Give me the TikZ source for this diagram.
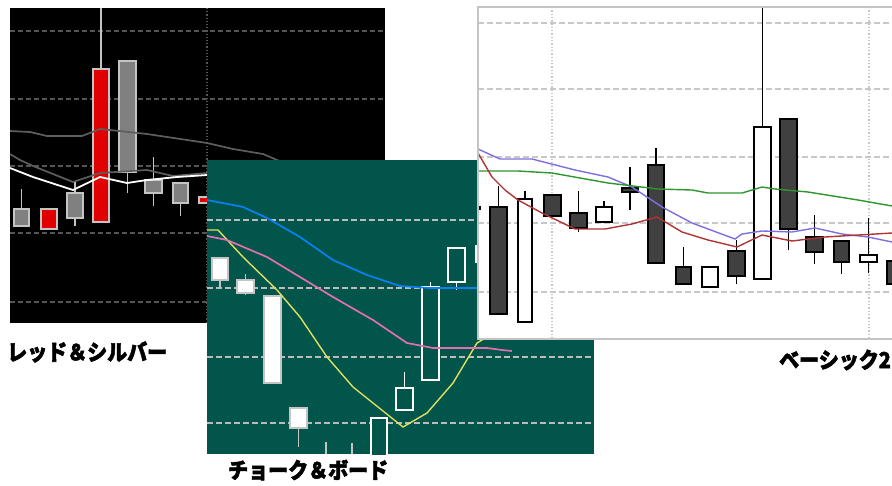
\documentclass[tikz,border=0pt]{standalone}
\usepackage{fontspec}
\newfontfamily\jp{Noto Sans CJK JP}[BoldFeatures={FakeBold=2.5}]
\definecolor{tealbg}{HTML}{02554A}
\definecolor{cred}{HTML}{E00000}
\definecolor{cgray}{HTML}{808080}
\definecolor{cgrayb}{HTML}{C4C4C4}
\definecolor{blkgrid}{HTML}{555555}
\definecolor{blkma}{HTML}{5E5E5E}
\definecolor{mablue}{HTML}{0A80F5}
\definecolor{mayellow}{HTML}{E0E060}
\definecolor{mapink}{HTML}{E070B0}
\definecolor{mapurple}{HTML}{7C70E0}
\definecolor{magreen}{HTML}{2E962E}
\definecolor{mared}{HTML}{B03434}
\definecolor{cdark}{HTML}{404040}
\definecolor{wgrid}{HTML}{C8C8C8}
\definecolor{tgrid}{HTML}{BCBCBC}
\newcommand\cndl[7]{%
  \draw[#7] ({(#1+#2)/2},#5) -- ({(#1+#2)/2},#6);
  \draw[#7] (#1,#3) rectangle (#2,#4);}
\tikzset{
  gc/.style={draw=cgrayb,fill=cgray,line width=1.4pt},
  rc/.style={draw=cgrayb,fill=cred,line width=1.4pt},
  tcf/.style={draw=cgrayb,fill=white,line width=1.4pt},
  tch/.style={draw=white,fill=tealbg,line width=1.6pt},
  wd/.style={draw=black,fill=cdark,line width=1.8pt},
  ww/.style={draw=black,fill=white,line width=1.8pt},
  bgrid/.style={draw=blkgrid,line width=1.4pt,dash pattern=on 5pt off 3pt},
  tgr/.style={draw=tgrid,line width=1.8pt,dash pattern=on 6pt off 3pt},
  wgr/.style={draw=wgrid,line width=1.5pt,dash pattern=on 6pt off 3pt},
  ma/.style={line width=1.7pt},
  lab/.style={font=\jp\bfseries\fontsize{20}{20}\selectfont,anchor=west,inner sep=0pt,text=black}
}
\begin{document}
\begin{tikzpicture}[x=1pt,y=-1pt]
\useasboundingbox (0,0) rectangle (892,485);
\clip (0,0) rectangle (892,485);
\fill[white] (0,0) rectangle (892,485);
% ---------------- black panel
\fill[black] (10,8) rectangle (385,323);
\foreach \yy in {31,99,166,233,302} \draw[bgrid] (10,\yy) -- (385,\yy);
\draw[blkgrid,line width=1.2pt,dash pattern=on 1.2pt off 2pt] (207,8) -- (207,323);
\cndl{14}{29}{209}{226}{189}{226}{gc}
\cndl{41}{57}{209}{229}{209}{229}{rc}
\cndl{67}{83}{193}{218}{182}{226}{gc}
\cndl{93}{109}{69}{222}{8}{222}{rc}
\cndl{119}{136}{61}{172}{61}{193}{gc}
\cndl{145}{162}{180}{193}{157}{206}{gc}
\cndl{173}{188}{183}{203}{182}{216}{gc}
\cndl{199}{213}{197}{203}{197}{203}{rc}
\draw[blkma,ma] (10,131) -- (30,132) -- (47,136) -- (82,136) -- (100,129) -- (110,130) -- (147,134) -- (207,143) -- (233,149) -- (263,154) -- (277,160) -- (300,168);
\draw[blkma,ma] (10,154) -- (20,160) -- (33,166) -- (73,182) -- (100,173) -- (147,170) -- (173,176) -- (207,173) -- (240,172);
\draw[white,line width=1.8pt] (10,168) -- (33,177) -- (73,190) -- (100,177) -- (127,183) -- (147,180) -- (177,177) -- (207,175) -- (240,174);
% ---------------- teal panel
\fill[tealbg] (207,160) rectangle (594,454);
\foreach \yy in {220,288,357,423} \draw[tgr] (207,\yy) -- (594,\yy);
\begin{scope}
\clip (207,160) rectangle (594,454);
\cndl{212}{228}{258}{280}{258}{287}{tcf}
\cndl{237}{254}{280}{293}{274}{295}{tcf}
\cndl{264}{281}{296}{383}{296}{383}{tcf}
\cndl{290}{307}{408}{428}{408}{447}{tcf}
\draw[cgrayb,line width=1.4pt] (326,442) -- (326,454) (352,443) -- (352,454);
\cndl{371}{387}{418}{460}{418}{460}{tch}
\cndl{396}{413}{388}{410}{372}{410}{tch}
\cndl{422}{439}{287}{380}{282}{380}{tch}
\cndl{448}{465}{248}{282}{248}{290}{tch}
\cndl{476}{490}{246}{262}{246}{262}{tch}
\draw[mablue,ma] (207,200) -- (233,205) -- (243,207) -- (267,218) -- (300,237) -- (333,260) -- (367,275) -- (400,286) -- (430,288) -- (490,288);
\draw[mayellow,line width=1.4pt] (207,230) -- (218,230) -- (243,257) -- (277,290) -- (300,317) -- (327,357) -- (353,387) -- (403,427) -- (427,413) -- (453,383) -- (477,343) -- (487,337);
\draw[mapink,ma] (207,236) -- (227,240) -- (267,257) -- (300,277) -- (333,297) -- (373,320) -- (407,343) -- (433,348) -- (487,348) -- (502,350) -- (512,351);
\end{scope}
% ---------------- white panel
\fill[white] (478,7) rectangle (900,339);
\foreach \yy in {23,89,157,223,292} \draw[wgr] (478,\yy) -- (900,\yy);
\draw[wgrid,line width=1.3pt,dash pattern=on 1.3pt off 2pt] (552,7) -- (552,339) (869,7) -- (869,339);
\begin{scope}
\clip (478,7) rectangle (900,339);
\fill[black] (478,206) rectangle (481,210);
\cndl{490}{507}{207}{314}{186}{314}{wd}
\cndl{518}{532}{199}{322}{191}{322}{ww}
\cndl{544}{561}{195}{216}{195}{216}{wd}
\cndl{570}{587}{213}{228}{191}{232}{wd}
\cndl{596}{612}{207}{222}{201}{222}{ww}
\cndl{622}{638}{188}{192}{167}{210}{wd}
\cndl{648}{664}{165}{263}{148}{263}{wd}
\cndl{676}{691}{267}{284}{247}{284}{wd}
\cndl{702}{718}{267}{287}{267}{287}{ww}
\cndl{728}{745}{251}{276}{240}{284}{wd}
\cndl{754}{771}{127}{279}{7}{279}{ww}
\cndl{780}{797}{119}{229}{119}{250}{wd}
\cndl{806}{823}{237}{252}{215}{264}{wd}
\cndl{834}{849}{241}{262}{241}{274}{wd}
\cndl{860}{877}{255}{262}{218}{273}{ww}
\cndl{887}{905}{261}{284}{261}{284}{wd}
\draw[mapurple,line width=1.4pt] (478,149) -- (500,159) -- (532,159) -- (575,170) -- (608,177) -- (632,187) -- (662,207) -- (692,223) -- (735,239) -- (742,234) -- (762,231) -- (792,232) -- (815,228) -- (842,234) -- (868,237) -- (892,242);
\draw[magreen,line width=1.4pt] (478,171) -- (518,171) -- (552,173) -- (608,183) -- (658,189) -- (692,190) -- (708,193) -- (742,193) -- (762,187) -- (775,189) -- (808,192) -- (858,200) -- (892,206);
\draw[mared,line width=1.4pt] (478,153) -- (492,177) -- (505,190) -- (518,200) -- (542,213) -- (575,229) -- (605,229) -- (632,224) -- (657,217) -- (682,232) -- (708,240) -- (737,247) -- (762,235) -- (792,241) -- (825,237) -- (892,233);
\end{scope}
\draw[cgrayb,line width=1.5pt] (900,7) -- (478,7) -- (478,339) -- (900,339);
% ---------------- labels
\node[lab] (l1) at (7,352) {\scalebox{1}[1.1]{レッド＆シルバー}};
\node[lab] (l2) at (228,470) {\scalebox{1}[1.1]{チョーク＆ボード}};
\node[lab] (l3) at (779,360) {\scalebox{1}[1.1]{ベーシック2}};
\end{tikzpicture}
\end{document}
